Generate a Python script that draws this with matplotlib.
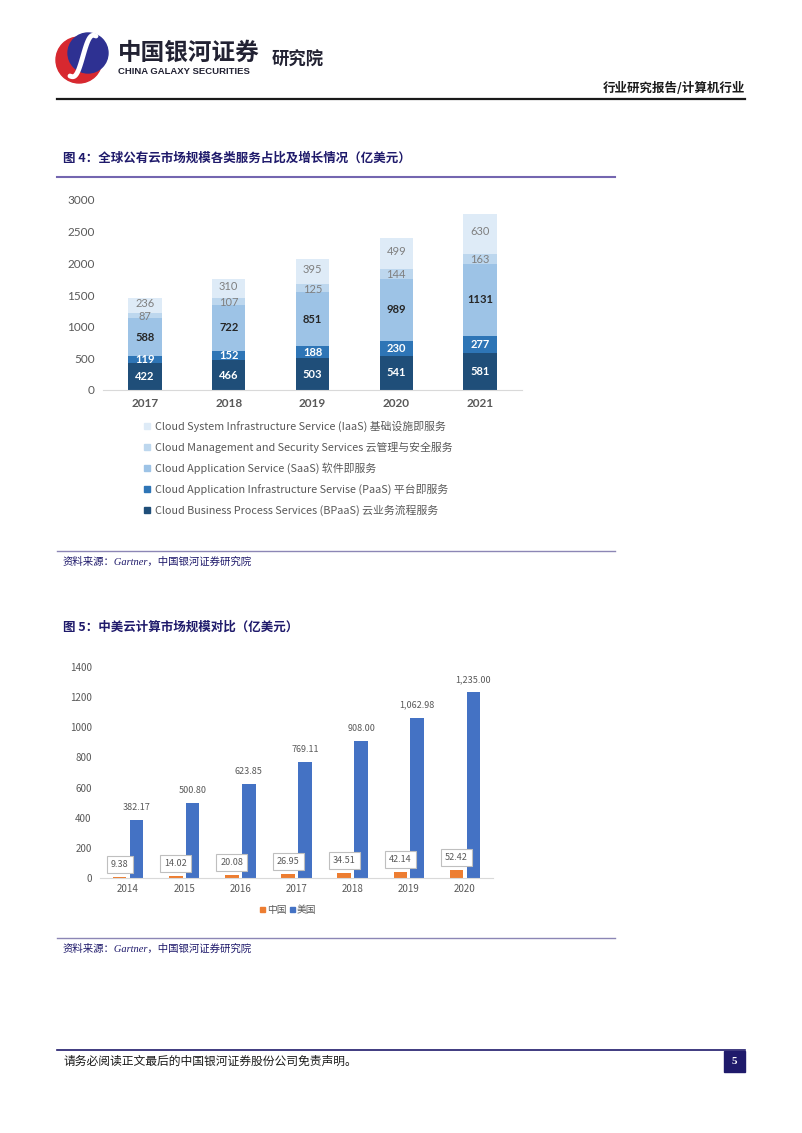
import numpy as np
import matplotlib.pyplot as plt
from matplotlib.patches import Rectangle, Circle

plt.rcParams['font.family'] = ['Noto Sans CJK SC', 'DejaVu Sans']

W, H = 802, 1133

# 图4 数据（亿美元）
years1 = ['2017', '2018', '2019', '2020', '2021']
bpaas = [422, 466, 503, 541, 581]
paas = [119, 152, 188, 230, 277]
saas = [588, 722, 851, 989, 1131]
mgmt = [87, 107, 125, 144, 163]
iaas = [236, 310, 395, 499, 630]
names1 = ['Cloud Business Process Services (BPaaS) 云业务流程服务',
          'Cloud Application Infrastructure Servise (PaaS) 平台即服务',
          'Cloud Application Service (SaaS) 软件即服务',
          'Cloud Management and Security Services 云管理与安全服务',
          'Cloud System Infrastructure Service (IaaS) 基础设施即服务']

# 图5 数据（亿美元）
years2 = ['2014', '2015', '2016', '2017', '2018', '2019', '2020']
china = [9.38, 14.02, 20.08, 26.95, 34.51, 42.14, 52.42]
usa = [382.17, 500.80, 623.85, 769.11, 908.00, 1062.98, 1235.00]

NAVY = '#1f1a6b'
GRAY = '#595959'
NUM_FONT = ['Lato', 'DejaVu Sans']

fig = plt.figure(figsize=(W / 100, H / 100), dpi=100)


def px_axes(x0, y0, x1, y1):
    # ピクセル座標で軸を配置
    return fig.add_axes([x0 / W, 1 - y1 / H, (x1 - x0) / W, (y1 - y0) / H])


# ページ全体（ピクセル座標）
page = fig.add_axes([0, 0, 1, 1], zorder=-1)
page.set_xlim(0, W)
page.set_ylim(H, 0)
page.axis('off')

# ロゴ
page.add_patch(Circle((79, 60), 23, color='#d7282f'))
page.add_patch(Circle((88, 53), 20, color='#2e3192'))
t = np.linspace(0, 1, 50)
page.plot(70 + 26 * t, 76 - 40 * t + 8 * np.sin(2 * np.pi * t), color='white', lw=3.5,
          solid_capstyle='round')
page.text(118, 53, '中国银河证券', fontsize=17, fontweight='bold', color='#222233', va='center')
page.text(118, 72, 'CHINA GALAXY SECURITIES', fontsize=6.8, fontweight='bold', color='#222233',
          va='center', family=['Liberation Sans', 'DejaVu Sans'])
page.text(272, 60, '研究院', fontsize=12.5, fontweight='bold', color='#222233', va='center')

page.text(745, 88, '行业研究报告/计算机行业', fontsize=9, fontweight='bold', color='#1a1a1a',
          ha='right', va='center')
page.plot([57, 745], [99, 99], color='#1a1a1a', lw=1.6)

# 图4 标题
page.text(63, 158, '图 4：全球公有云市场规模各类服务占比及增长情况（亿美元）', fontsize=9,
          fontweight='bold', color=NAVY, va='center')
page.plot([57, 615], [177, 177], color='#7466b0', lw=1.5)

ax1 = px_axes(103, 200, 522, 390)
x1 = np.arange(len(years1))
colors1 = ['#1f4e79', '#2e75b6', '#9dc3e6', '#bdd7ee', '#deebf7']
lab_colors = ['white', 'white', '#262626', '#7f7f7f', '#7f7f7f']
lab_weights = ['bold', 'bold', 'bold', 'normal', 'normal']
lab_shift = [0, 0, 0, -1, 2]  # 小さい区間のラベルが重ならないよう少しずらす（px）
bottom = np.zeros(len(years1))
for vals, c, lc, lw_, sh in zip([bpaas, paas, saas, mgmt, iaas], colors1, lab_colors,
                                lab_weights, lab_shift):
    vals = np.array(vals, dtype=float)
    ax1.bar(x1, vals, 0.4, bottom=bottom, color=c)
    for xi, b, v in zip(x1, bottom, vals):
        ax1.annotate(f'{int(v)}', (xi, b + v / 2), xytext=(0, sh * 0.72),
                     textcoords='offset points', ha='center', va='center', fontsize=8,
                     fontweight=lw_, color=lc, family=NUM_FONT)
    bottom += vals
ax1.set_xlim(-0.5, len(years1) - 0.5)
ax1.set_ylim(0, 3000)
ax1.set_yticks(range(0, 3001, 500))
ax1.set_xticks(x1)
ax1.set_xticklabels(years1)
for s in ['top', 'right', 'left']:
    ax1.spines[s].set_visible(False)
ax1.spines['bottom'].set_color('#d9d9d9')
ax1.tick_params(axis='both', length=0, labelsize=8.5, labelcolor=GRAY)
ax1.tick_params(axis='y', pad=6)
ax1.tick_params(axis='x', pad=6)
for lb in ax1.get_yticklabels():
    lb.set_family(NUM_FONT)
for lb in ax1.get_xticklabels():
    lb.set_family(NUM_FONT)
    lb.set_fontweight('bold')

# 图4 凡例
for i, (name, c) in enumerate(zip(names1[::-1], colors1[::-1])):
    y = 426 + 21 * i
    page.add_patch(Rectangle((144, y - 3), 6, 6, color=c))
    page.text(155, y, name, fontsize=7.8, color=GRAY, va='center')

page.plot([57, 615], [551, 551], color='#8c86b5', lw=1)
page.text(63, 562, '资料来源：Gartner，中国银河证券研究院', fontsize=7.5, style='italic',
          color=NAVY, va='center', family=['Liberation Serif', 'Noto Sans CJK SC'])

# 图5 标题
page.text(63, 627, '图 5：中美云计算市场规模对比（亿美元）', fontsize=9, fontweight='bold',
          color=NAVY, va='center')

ax2 = px_axes(100, 667, 493, 878)
x2 = np.arange(len(years2))
w = 0.24
ax2.bar(x2 - 0.15, china, w, color='#ed7d31')
ax2.bar(x2 + 0.15, usa, w, color='#4472c4')
for xi, v in zip(x2, usa):
    ax2.annotate(f'{v:,.2f}', (xi + 0.15, v), xytext=(0, 9), textcoords='offset points',
                 ha='center', va='center', fontsize=6.5, color=GRAY, annotation_clip=False)
for xi, v in zip(x2, china):
    ax2.annotate(f'{v:.2f}', (xi - 0.15, v), xytext=(0, 9), textcoords='offset points',
                 ha='center', va='center', fontsize=6.5, color=GRAY,
                 bbox=dict(boxstyle='square,pad=0.45', fc='white', ec='#bfbfbf', lw=0.8))
ax2.set_xlim(-0.5, len(years2) - 0.5)
ax2.set_ylim(0, 1400)
ax2.set_yticks(range(0, 1401, 200))
ax2.set_xticks(x2)
ax2.set_xticklabels(years2)
for s in ['top', 'right', 'left']:
    ax2.spines[s].set_visible(False)
ax2.spines['bottom'].set_color('#d9d9d9')
ax2.tick_params(axis='both', length=0, labelsize=7, labelcolor=GRAY)
ax2.tick_params(axis='y', pad=6)
ax2.tick_params(axis='x', pad=4)

# 图5 凡例
page.add_patch(Rectangle((260, 907), 5, 5, color='#ed7d31'))
page.text(267, 910, '中国', fontsize=7, color=GRAY, va='center')
page.add_patch(Rectangle((290, 907), 5, 5, color='#4472c4'))
page.text(297, 910, '美国', fontsize=7, color=GRAY, va='center')

page.plot([57, 615], [938, 938], color='#8c86b5', lw=1)
page.text(63, 949, '资料来源：Gartner，中国银河证券研究院', fontsize=7.5, style='italic',
          color=NAVY, va='center', family=['Liberation Serif', 'Noto Sans CJK SC'])

# フッター
page.plot([57, 745], [1050, 1050], color=NAVY, lw=1.2)
page.text(63, 1061, '请务必阅读正文最后的中国银河证券股份公司免责声明。', fontsize=8.5,
          color='#1a1a1a', va='center')
page.add_patch(Rectangle((724, 1051), 21, 21, color=NAVY))
page.text(734.5, 1061.5, '5', fontsize=8, fontweight='bold', color='white', ha='center',
          va='center', family=['Liberation Serif', 'DejaVu Serif'])

fig.savefig('out.png', dpi=100)
